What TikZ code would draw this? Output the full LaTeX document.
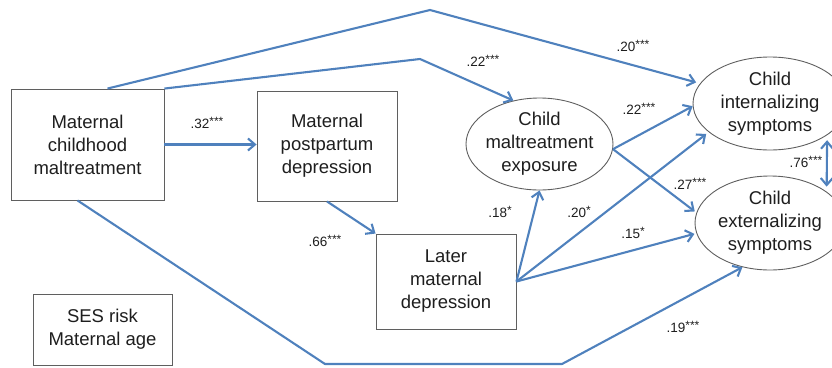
\documentclass[tikz,border=0pt]{standalone}
\usepackage{fontspec}
\setmainfont{Liberation Sans}
\usetikzlibrary{arrows.meta,shapes.geometric}
\definecolor{lineblue}{RGB}{79,129,189}
\definecolor{boxgray}{RGB}{95,95,95}
\definecolor{txt}{RGB}{30,30,30}
\newcommand{\stars}[1]{\raisebox{0.2em}{\fontsize{12}{12}\selectfont #1}}
\begin{document}
\begin{tikzpicture}[x=1pt,y=-1pt,
  box/.style={draw=boxgray,line width=0.9pt,inner sep=0pt,align=center,text=txt,font=\fontsize{18.5}{23}\selectfont},
  oval/.style={ellipse,draw=boxgray,line width=0.9pt,inner ysep=0pt,inner xsep=-3pt,align=center,text=txt,font=\fontsize{18.5}{23}\selectfont},
  conn/.style={draw=lineblue,line width=2.1pt,line join=round,-{Straight Barb[length=7pt,width=12pt]}},
  twoway/.style={draw=lineblue,line width=2.1pt,{Straight Barb[length=7pt,width=12pt]}-{Straight Barb[length=7pt,width=12pt]}},
  coef/.style={font=\fontsize{13.5}{15}\selectfont,inner sep=0pt,text=txt}
]
\useasboundingbox (0,0) rectangle (832,367);

\node[box,minimum width=153,minimum height=111] (mcm) at (87.5,144.5) {Maternal\\childhood\\maltreatment};
\node[box,minimum width=140,minimum height=110] (mpd) at (327,146) {Maternal\\postpartum\\depression};
\node[box,minimum width=140,minimum height=95] (lmd) at (446,281.5) {Later\\maternal\\depression};
\node[box,minimum width=139,minimum height=71] (ses) at (102.5,329.5) {SES risk\\Maternal age};
\node[oval,minimum width=147,minimum height=92] (exp) at (539.5,144) {Child\\maltreatment\\exposure};
\node[oval,minimum width=154,minimum height=93] (int) at (770,103.5) {Child\\internalizing\\symptoms};
\node[oval,minimum width=150,minimum height=94] (ext) at (770,223) {Child\\externalizing\\symptoms};

\coordinate (b1) at (430,10);
\coordinate (b2) at (420,59);
\coordinate (c1) at (325,364);
\coordinate (c2) at (562,364);

\draw[conn,shorten >=4pt] ([xshift=20]mcm.north) -- (b1) -- (int.164);
\draw[conn] (mcm.north east) -- (b2) -- (exp.121);
\draw[conn] (mcm.east) -- (mcm.east -| mpd.west);
\draw[conn] (mpd.south) -- (lmd.north west);
\draw[conn] ([xshift=-10]mcm.south) -- (c1) -- (c2) -- (ext.238);
\draw[conn] (lmd.east) -- (exp.south);
\draw[conn,shorten >=3pt] (lmd.east) -- (int.205);
\draw[conn,shorten >=2pt] (lmd.east) -- (ext.188);
\draw[conn] (exp.-4) -- (int.182);
\draw[conn,shorten >=2pt] (exp.-4) -- (ext.172);
\draw[twoway,shorten <=5pt,shorten >=5pt] (int.-29) -- (ext.29);

\node[coef] (l1) at (483,61) {.22\stars{***}};
\node[coef] (l2) at (633,46) {.20\stars{***}};
\node[coef] (l3) at (207,123) {.32\stars{***}};
\node[coef] (l4) at (325,241) {.66\stars{***}};
\node[coef] (l5) at (639,109) {.22\stars{***}};
\node[coef] (l6) at (690,184) {.27\stars{***}};
\node[coef] (l7) at (806,162) {.76\stars{***}};
\node[coef] (l8) at (500,212) {.18\stars{*}};
\node[coef] (l9) at (579,212) {.20\stars{*}};
\node[coef] (l10) at (633,233) {.15\stars{*}};
\node[coef] (l11) at (683,327) {.19\stars{***}};
\end{tikzpicture}
\end{document}
